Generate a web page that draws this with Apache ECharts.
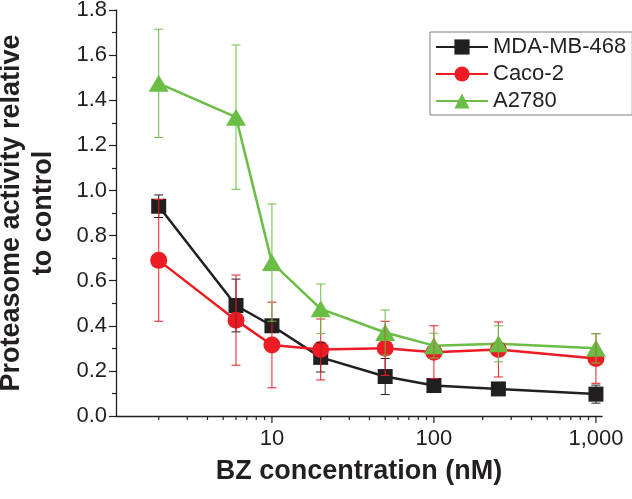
<!DOCTYPE html>
<html>
<head>
<meta charset="utf-8">
<script src="https://cdn.jsdelivr.net/npm/echarts@6/dist/echarts.min.js"></script>
<style>
html,body{margin:0;padding:0;background:#fff;}
#chart{width:632px;height:499px;}
</style>
</head>
<body>
<div id="chart"></div>
<script>
// ---- data ----
const concentrations = [2, 6, 10, 20, 50, 100, 250, 1000];
const seriesNames = ['MDA-MB-468', 'Caco-2', 'A2780'];
const mdaValues  = [0.93, 0.49, 0.40, 0.26, 0.175, 0.135, 0.12, 0.097];
const mdaErrors  = [0.05, 0.117, 0.02, 0.065, 0.08, 0.02, 0.012, 0.04];
const cacoValues = [0.69, 0.425, 0.315, 0.295, 0.30, 0.283, 0.295, 0.255];
const cacoErrors = [0.27, 0.20, 0.19, 0.135, 0.12, 0.117, 0.122, 0.11];
const a2780Values = [1.475, 1.325, 0.68, 0.475, 0.37, 0.312, 0.32, 0.30];
const a2780Errors = [0.24, 0.32, 0.26, 0.11, 0.10, 0.055, 0.08, 0.065];
const xTickValues = [2,3,4,5,6,7,8,9,10,20,30,40,50,60,70,80,90,100,200,300,400,500,600,700,800,900,1000];
const xMajorTicks = [10, 100, 1000];
const xTickLabels = {10: '10', 100: '100', 1000: '1,000'};
const yTickLabelsDecimals = 1;

const colors = ['#231f20', '#ed1c24', '#6abd45'];
const symbols = ['rect', 'circle', 'triangle'];
const symbolSizes = [15, 17, [20, 17]];
const allValues = [mdaValues, cacoValues, a2780Values];
const allErrors = [mdaErrors, cacoErrors, a2780Errors];

const chart = echarts.init(document.getElementById('chart'), null, {renderer: 'canvas'});
const FONT = '"Liberation Sans", Arial, Helvetica, sans-serif';
const TXT = '#231f20';

function errRender(color) {
  return function (params, api) {
    const x = api.value(0), lo = api.value(1), hi = api.value(2);
    const a = api.coord([x, hi]);
    const b = api.coord([x, lo]);
    const hw = 4.5;
    const st = {stroke: color, lineWidth: 1, fill: null};
    return {
      type: 'group',
      children: [
        {type: 'line', shape: {x1: a[0], y1: a[1], x2: b[0], y2: b[1]}, style: st},
        {type: 'line', shape: {x1: a[0] - hw, y1: a[1], x2: a[0] + hw, y2: a[1]}, style: st},
        {type: 'line', shape: {x1: b[0] - hw, y1: b[1], x2: b[0] + hw, y2: b[1]}, style: st}
      ]
    };
  };
}

const series = [];
seriesNames.forEach(function (name, i) {
  series.push({
    name: name,
    type: 'line',
    data: concentrations.map(function (c, j) { return [c, allValues[i][j]]; }),
    symbol: symbols[i],
    symbolSize: symbolSizes[i],
    itemStyle: {color: colors[i]},
    lineStyle: {color: colors[i], width: 2.5},
    z: 3,
    animation: false
  });
});
seriesNames.forEach(function (name, i) {
  series.push({
    name: name + ' err',
    type: 'custom',
    renderItem: errRender(colors[i]),
    data: concentrations.map(function (c, j) {
      return [c, allValues[i][j] - allErrors[i][j], allValues[i][j] + allErrors[i][j]];
    }),
    encode: {x: 0, y: [1, 2]},
    z: 4,
    silent: true,
    animation: false
  });
});
series.push({
  name: 'xticks',
  type: 'custom',
  clip: false,
  silent: true,
  animation: false,
  data: xTickValues.map(function (v) { return [v, 0]; }),
  encode: {x: 0, y: 1},
  renderItem: function (params, api) {
    const v = api.value(0);
    const p = api.coord([v, 0]);
    const major = xMajorTicks.indexOf(v) >= 0;
    const len = major ? 7 : 4;
    return {type: 'line', shape: {x1: p[0], y1: p[1], x2: p[0], y2: p[1] + len},
            style: {stroke: TXT, lineWidth: 1.2}};
  },
  z: 5
});

const option = {
  backgroundColor: '#ffffff',
  animation: false,
  grid: {left: 116, right: 30, top: 10, bottom: 83, containLabel: false, outerBoundsMode: 'none'},
  legend: {
    data: seriesNames,
    orient: 'vertical',
    left: 430,
    top: 32,
    padding: [4, 6, 3, 5],
    itemWidth: 52,
    itemHeight: 19,
    itemGap: 5,
    borderColor: '#7f7f7f',
    borderWidth: 1,
    textStyle: {fontFamily: FONT, fontSize: 22, color: TXT}
  },
  xAxis: {
    type: 'log',
    logBase: 10,
    min: 1.09,
    max: 1090,
    name: 'BZ concentration (nM)',
    nameLocation: 'middle',
    nameGap: 42,
    nameTextStyle: {fontFamily: FONT, fontSize: 27, fontWeight: 'bold', color: TXT},
    axisLine: {show: true, lineStyle: {color: TXT, width: 1.3}},
    axisTick: {show: false},
    splitLine: {show: false},
    axisLabel: {
      fontFamily: FONT, fontSize: 22, color: TXT, margin: 12,
      showMinLabel: false, showMaxLabel: false,
      formatter: function (v) {
        const r = Math.round(v);
        return (Math.abs(v - r) < 1e-6 && xTickLabels[r]) ? xTickLabels[r] : '';
      }
    }
  },
  yAxis: {
    type: 'value',
    min: 0,
    max: 1.8,
    interval: 0.2,
    name: 'Proteasome activity relative\nto control',
    nameLocation: 'middle',
    nameGap: 56,
    nameTextStyle: {fontFamily: FONT, fontSize: 27, fontWeight: 'bold', color: TXT, lineHeight: 32},
    axisLine: {show: true, lineStyle: {color: TXT, width: 1.3}},
    axisTick: {show: true, length: 7, lineStyle: {color: TXT, width: 1.2}},
    minorTick: {show: true, splitNumber: 2, length: 4, lineStyle: {color: TXT, width: 1.2}},
    splitLine: {show: false},
    minorSplitLine: {show: false},
    axisLabel: {
      fontFamily: FONT, fontSize: 22, color: TXT, margin: 9,
      formatter: function (v) { return v.toFixed(yTickLabelsDecimals); }
    }
  },
  series: series
};
chart.setOption(option);
</script>
</body>
</html>
